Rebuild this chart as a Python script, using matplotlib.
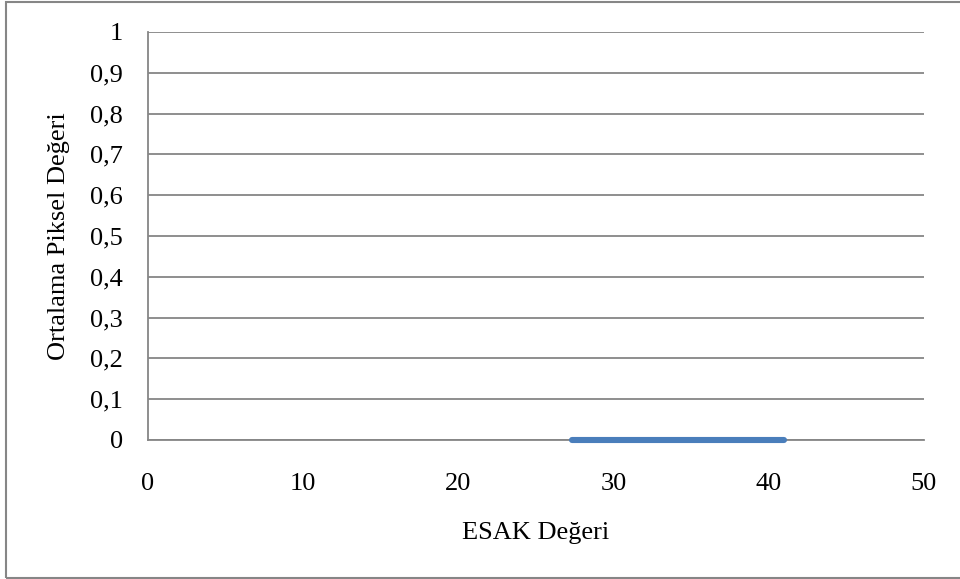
import matplotlib
matplotlib.use("Agg")
import matplotlib.pyplot as plt
from matplotlib.patches import Rectangle

# Threshold (ESAK) values and mean pixel values
esak = [27.3, 30.0, 33.0, 36.0, 39.0, 41.0]
mean_pixel = [0, 0, 0, 0, 0, 0]

y_ticks = [0, 0.1, 0.2, 0.3, 0.4, 0.5, 0.6, 0.7, 0.8, 0.9, 1]
y_tick_labels = ["0", "0,1", "0,2", "0,3", "0,4", "0,5", "0,6", "0,7", "0,8", "0,9", "1"]
x_ticks = [0, 10, 20, 30, 40, 50]
x_tick_labels = ["0", "10", "20", "30", "40", "50"]

plt.rcParams["font.family"] = ["Liberation Serif", "DejaVu Serif"]
FS = 19

fig = plt.figure(figsize=(9.6, 5.79), dpi=100)
ax = fig.add_axes([148 / 960, 1 - 440 / 579, 776 / 960, 408 / 579])

grid_color = "#868686"
for y in y_ticks:
    ax.axhline(y, color=grid_color, lw=1.3, zorder=1)

ax.plot(esak, mean_pixel, color="#4a7ebb", lw=4.4, solid_capstyle="round", zorder=3, clip_on=False)

ax.set_xlim(0, 50)
ax.set_ylim(0, 1)
ax.set_xticks(x_ticks)
ax.set_xticklabels(x_tick_labels)
ax.set_yticks(y_ticks)
ax.set_yticklabels(y_tick_labels)
ax.tick_params(axis="both", length=0, labelsize=FS)
ax.tick_params(axis="y", pad=18)
ax.tick_params(axis="x", pad=23.5)

for side in ["top", "right"]:
    ax.spines[side].set_visible(False)
ax.spines["left"].set_color(grid_color)
ax.spines["left"].set_linewidth(1.3)
ax.spines["bottom"].set_color(grid_color)
ax.spines["bottom"].set_linewidth(1.3)

ax.set_xlabel("ESAK Değeri", fontsize=FS, va="baseline")
ax.xaxis.set_label_coords(0.5, (440 - 539) / 408)
ax.set_ylabel("Ortalama Piksel Değeri", fontsize=FS, va="baseline")
ax.yaxis.set_label_coords((65.5 - 148) / 776, 0.5)

# Chart area frame
fig.patches.append(Rectangle((6 / 960, 1 / 579), 1.1, 1 - 3 / 579,
                             transform=fig.transFigure, fill=False,
                             edgecolor="#868686", lw=1.5, zorder=0))

fig.savefig("out.png", dpi=100)
